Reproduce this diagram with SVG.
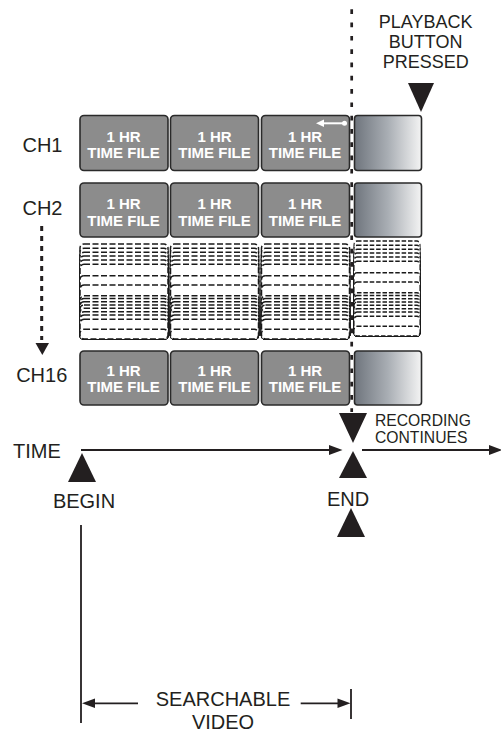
<svg xmlns="http://www.w3.org/2000/svg" width="501" height="733" viewBox="0 0 501 733">
<defs>
<linearGradient id="grad" x1="0" y1="0" x2="1" y2="0">
<stop offset="0" stop-color="#6f757d"/>
<stop offset="0.5" stop-color="#a9aeb4"/>
<stop offset="1" stop-color="#f4f4f4"/>
</linearGradient>
<style>
.lbl{font-family:"Liberation Sans",Arial,sans-serif;font-size:20px;fill:#231f20}
.box{fill:#8c8c8c;stroke:#2a2a2a;stroke-width:1.6}
.gbox{fill:url(#grad);stroke:#2a2a2a;stroke-width:1.6}
.bt{font-family:"Liberation Sans",Arial,sans-serif;font-size:15px;font-weight:bold;fill:#fff;text-anchor:middle}
.dr{fill:#fff;stroke:#1a1a1a;stroke-width:1.5;stroke-dasharray:6 2.5}
.line{stroke:#231f20;stroke-width:1.8;fill:none}
.tri{fill:#231f20}
</style>
<symbol id="stack" overflow="visible">
<rect class="dr" x="0" y="244" width="88" height="95" rx="4"/>
<rect class="dr" x="0" y="248.3" width="88" height="90.7" rx="4"/>
<rect class="dr" x="0" y="252.3" width="88" height="86.7" rx="4"/>
<rect class="dr" x="0" y="256" width="88" height="83" rx="4"/>
<rect class="dr" x="0" y="260" width="88" height="79" rx="4"/>
<rect class="dr" x="0" y="264.3" width="88" height="74.7" rx="4"/>
<rect class="dr" x="0" y="275.7" width="88" height="63.3" rx="4"/>
<rect class="dr" x="0" y="285" width="88" height="54" rx="4"/>
<rect class="dr" x="0" y="295.7" width="88" height="43.3" rx="4"/>
<rect class="dr" x="0" y="298.5" width="88" height="40.5" rx="4"/>
<rect class="dr" x="0" y="301.7" width="88" height="37.3" rx="4"/>
<rect class="dr" x="0" y="305" width="88" height="34" rx="4"/>
<rect class="dr" x="0" y="308.3" width="88" height="30.7" rx="4"/>
<rect class="dr" x="0" y="311.7" width="88" height="27.3" rx="4"/>
<rect class="dr" x="0" y="315" width="88" height="24" rx="4"/>
<rect class="dr" x="0" y="319.3" width="88" height="19.7" rx="4"/>
<rect class="dr" x="0" y="329.3" width="88" height="9.7" rx="4"/>
</symbol>
</defs>

<g id="labels">
<text class="lbl" x="425.7" y="28" text-anchor="middle" style="font-size:18px">PLAYBACK</text>
<text class="lbl" x="425.7" y="48" text-anchor="middle" style="font-size:18px">BUTTON</text>
<text class="lbl" x="425.7" y="68" text-anchor="middle" style="font-size:18px">PRESSED</text>
<text class="lbl" x="42.5" y="152" text-anchor="middle">CH1</text>
<text class="lbl" x="42.5" y="215" text-anchor="middle">CH2</text>
<text class="lbl" x="41.7" y="382.3" text-anchor="middle">CH16</text>
<text class="lbl" x="13" y="458.3">TIME</text>
<text class="lbl" x="84" y="508.3" text-anchor="middle">BEGIN</text>
<text class="lbl" x="348" y="506" text-anchor="middle">END</text>
<text class="lbl" x="375" y="425.7" style="font-size:15.7px">RECORDING</text>
<text class="lbl" x="375" y="443" style="font-size:15.7px">CONTINUES</text>
<text class="lbl" x="223" y="706" text-anchor="middle">SEARCHABLE</text>
<text class="lbl" x="223" y="728.5" text-anchor="middle">VIDEO</text>
</g>

<g id="ch1">
<rect class="box" x="80" y="115.5" width="88" height="55" rx="4"/>
<text class="bt" x="123.5" y="141.5">1 HR</text><text class="bt" x="123.5" y="158.3">TIME FILE</text>
<rect class="box" x="170.5" y="115.5" width="88" height="55" rx="4"/>
<text class="bt" x="214.5" y="141.5">1 HR</text><text class="bt" x="214.5" y="158.3">TIME FILE</text>
<rect class="box" x="261.5" y="115.5" width="88" height="55" rx="4"/>
<text class="bt" x="305" y="141.5">1 HR</text><text class="bt" x="305" y="158.3">TIME FILE</text>
<rect class="gbox" x="354.5" y="115.5" width="67" height="55" rx="3"/>
<line x1="322" y1="123.3" x2="344" y2="123.3" stroke="#fff" stroke-width="2"/>
<polygon points="316,123.3 324,119.5 324,127.1" fill="#fff"/>
<circle cx="344.5" cy="123.3" r="2.5" fill="#fff"/>
</g>

<g id="ch2">
<rect class="box" x="80" y="183" width="88" height="54" rx="4"/>
<text class="bt" x="123.5" y="208.5">1 HR</text><text class="bt" x="123.5" y="225.5">TIME FILE</text>
<rect class="box" x="170.5" y="183" width="88" height="54" rx="4"/>
<text class="bt" x="214.5" y="208.5">1 HR</text><text class="bt" x="214.5" y="225.5">TIME FILE</text>
<rect class="box" x="261.5" y="183" width="88" height="54" rx="4"/>
<text class="bt" x="305" y="208.5">1 HR</text><text class="bt" x="305" y="225.5">TIME FILE</text>
<rect class="gbox" x="354.5" y="183" width="67" height="54" rx="3"/>
</g>

<g id="ch3-15">
<use href="#stack" x="80" y="0"/>
<use href="#stack" x="170.5" y="0"/>
<use href="#stack" x="261.5" y="0"/>
<g transform="translate(354 -3) scale(0.75 1)">
<use href="#stack" x="0" y="0"/>
</g>
</g>

<g id="ch16">
<rect class="box" x="80" y="351" width="88" height="54" rx="4"/>
<text class="bt" x="123.5" y="375.5">1 HR</text><text class="bt" x="123.5" y="392">TIME FILE</text>
<rect class="box" x="170.5" y="351" width="88" height="54" rx="4"/>
<text class="bt" x="214.5" y="375.5">1 HR</text><text class="bt" x="214.5" y="392">TIME FILE</text>
<rect class="box" x="261.5" y="351" width="88" height="54" rx="4"/>
<text class="bt" x="305" y="375.5">1 HR</text><text class="bt" x="305" y="392">TIME FILE</text>
<rect class="gbox" x="354.5" y="351" width="67" height="54" rx="3"/>
</g>

<g id="connectors">
<line x1="351.7" y1="9.3" x2="351.7" y2="412" stroke="#231f20" stroke-width="2.7" stroke-dasharray="4.7 8.6"/>
<polygon class="tri" points="408,83 434,83 421,112"/>
<line x1="41.7" y1="226" x2="41.7" y2="340" stroke="#231f20" stroke-width="3" stroke-dasharray="5 5"/>
<polygon class="tri" points="35.5,343 49,343 42.3,355"/>
<line class="line" x1="81" y1="450" x2="331" y2="450"/>
<polygon class="tri" points="329,445 342.5,450 329,455"/>
<line class="line" x1="362" y1="450" x2="490" y2="450"/>
<polygon class="tri" points="489,445 502.5,450 489,455"/>
<polygon class="tri" points="339,413 367,413 353,443"/>
<polygon class="tri" points="339,478 367,478 353,451"/>
<polygon class="tri" points="337,537 365,537 351,508"/>
<polygon class="tri" points="68,482 96,482 82,453"/>
<line class="line" x1="81" y1="525" x2="81" y2="723"/>
<line class="line" x1="351" y1="689" x2="351" y2="719"/>
<line class="line" x1="92" y1="703.3" x2="138" y2="703.3"/>
<polygon class="tri" points="82,703.3 95,698.5 95,708.1"/>
<line class="line" x1="300.7" y1="703.3" x2="340" y2="703.3"/>
<polygon class="tri" points="350.5,703.3 337.5,698.5 337.5,708.1"/>
</g>
</svg>
